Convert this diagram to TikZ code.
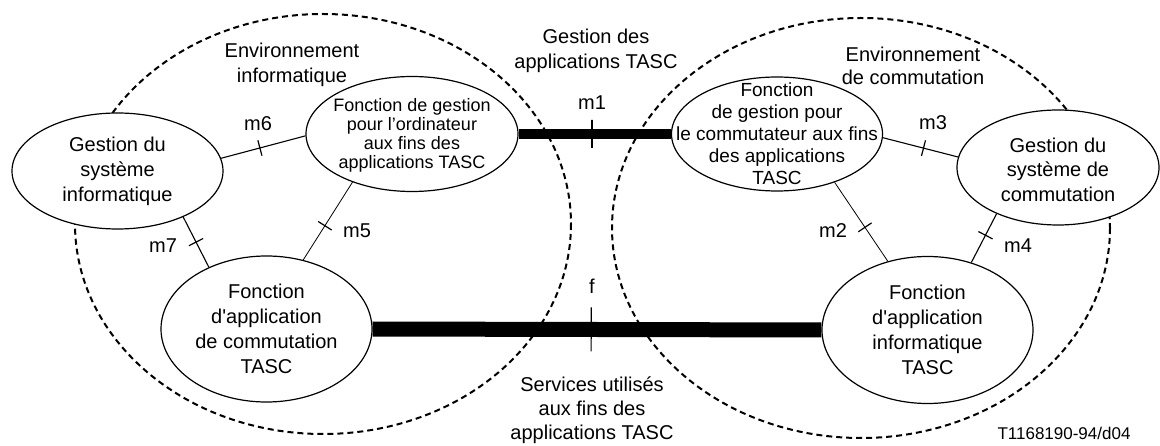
\documentclass[tikz,border=0pt]{standalone}
\usepackage{fontspec}
\setmainfont{Liberation Sans}
\usetikzlibrary{shapes.geometric}
\begin{document}
\begin{tikzpicture}[x=1pt,y=-1pt,
  env/.style={draw, dash pattern=on 6pt off 4pt, line width=2pt},
  fn/.style={ellipse, draw, fill=white, line width=1.2pt, inner sep=0pt},
  lbl/.style={align=center, inner sep=0pt, font=\fontsize{20}{25}\selectfont},
  link/.style={line width=1.1pt},
  thinlink/.style={line width=0.8pt},
  tickmark/.style={sloped, draw, line width=1.2pt, rectangle, minimum width=0pt, minimum height=16pt, inner sep=0pt},
]
\useasboundingbox (0,0) rectangle (1160,446);

% environments
\draw[env] (323,224) ellipse [x radius=248, y radius=210];
\draw[env] (861,228) ellipse [x radius=249, y radius=210];

% function ellipses
\node[fn, minimum width=211pt, minimum height=116pt] (gsi) at (117.5,171) {};
\node[fn, minimum width=212pt, minimum height=115pt] (fgo) at (412,134) {};
\node[fn, minimum width=211pt, minimum height=114pt] (fgc) at (777,134) {};
\node[fn, minimum width=202pt, minimum height=115pt] (gsc) at (1058,167.5) {};
\node[fn, minimum width=211pt, minimum height=146pt] (fac) at (266.5,329) {};
\node[fn, minimum width=211pt, minimum height=147pt] (fai) at (927.5,330) {};

\node[lbl] (gsiT) at (gsi.center) {Gestion du\\système\\informatique};
\node[lbl, font=\fontsize{18}{18.8}\selectfont] (fgoT) at ([yshift=-1.5pt]fgo.center) {Fonction de gestion\\pour l’ordinateur\\aux fins des\\applications TASC};
\node[lbl, font=\fontsize{19}{22}\selectfont] (fgcT) at (fgc.center) {Fonction\\de gestion pour\\le commutateur aux fins\\des applications\\TASC};
\node[lbl, font=\fontsize{20}{24.5}\selectfont] (gscT) at ([yshift=-2pt]gsc.center) {Gestion du\\système de\\commutation};
\node[lbl] (facT) at (fac.center) {Fonction\\d\textquotesingle application\\de commutation\\TASC};
\node[lbl] (faiT) at (fai.center) {Fonction\\d\textquotesingle application\\informatique\\TASC};

% thick interfaces
\draw[line width=10pt] (fgo.east) -- node[tickmark, minimum height=28pt, pos=0.482] (t1) {} (fgc.west);
\draw[line width=15pt] (fac.east) -- node[tickmark, minimum height=44pt, pos=0.487] (tf) {} (fai.west);

% management links
\draw[link] (gsi.7) -- node[tickmark, pos=0.46] (t6) {} (fgo.181);
\draw[link] (gsi.325) -- node[tickmark, pos=0.5] (t7) {} (fac.133.4);
\draw[thinlink] (fgo.219.4) -- node[tickmark, pos=0.56] (t5) {} (fac.62.5);
\draw[link] (fgc.358.4) -- node[tickmark, pos=0.54] (t3) {} (gsc.174.6);
\draw[thinlink] (fgc.320.6) -- node[tickmark, pos=0.57] (t2) {} (fai.120.2);
\draw[link] (gsc.217) -- node[tickmark, pos=0.44] (t4) {} (fai.57.2);

% interface labels
\node[lbl] (m6) at (258,124) {m6};
\node[lbl] (m1) at (592,103) {m1};
\node[lbl] (m3) at (933,123) {m3};
\node[lbl] (m7) at (163,246) {m7};
\node[lbl] (m5) at (357,231) {m5};
\node[lbl] (m2) at (833,231) {m2};
\node[lbl] (m4) at (1018,246) {m4};
\node[lbl] (f) at (592,286) {f};

% titles
\node[lbl] (env1) at (292,64.5) {Environnement\\informatique};
\node[lbl] (gapp) at (596,50.5) {Gestion des\\applications TASC};
\node[lbl, font=\fontsize{20}{23}\selectfont] (env2) at (913,66) {Environnement\\de commutation};
\node[lbl, font=\fontsize{20}{24}\selectfont] (serv) at (592,410) {Services utilisés\\aux fins des\\applications TASC};
\node[lbl, font=\fontsize{17}{20}\selectfont] (code) at (1064,433) {T1168190-94/d04};
\end{tikzpicture}
\end{document}
